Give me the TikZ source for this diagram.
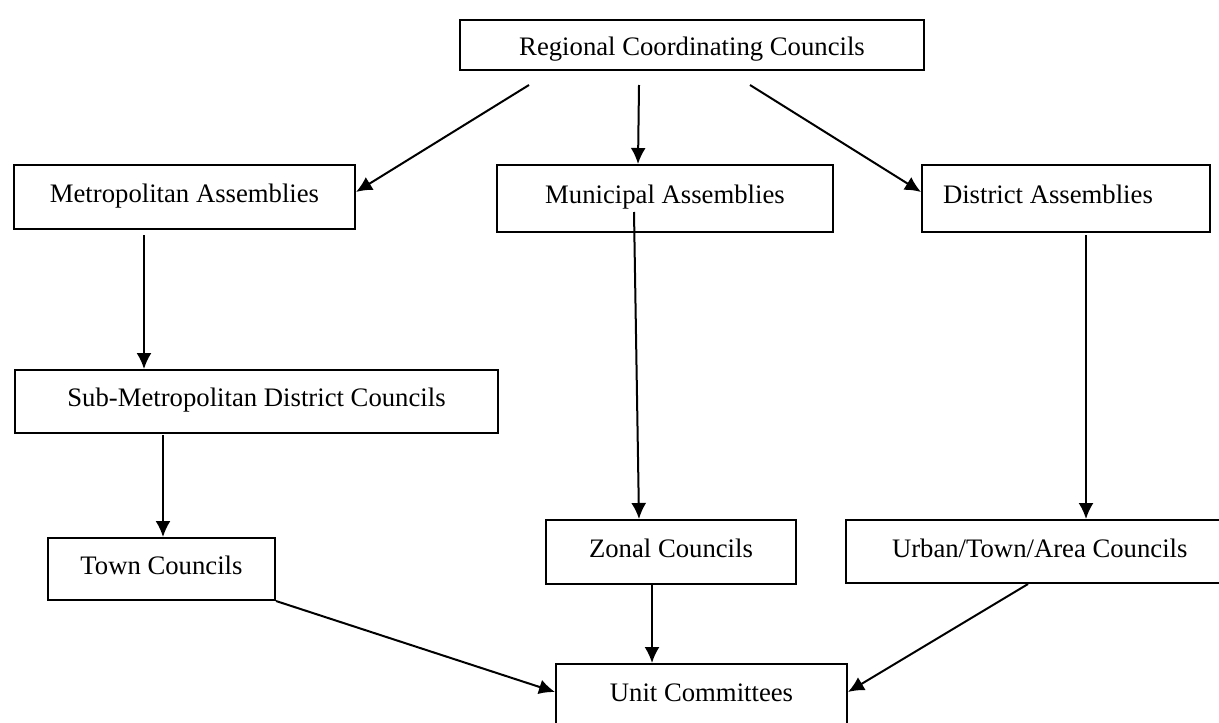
\documentclass[tikz,border=0pt]{standalone}
\usepackage{fontspec}
\setmainfont{Liberation Serif}
\usetikzlibrary{arrows.meta,calc}
\tikzset{
  box/.style={draw, line width=1pt, inner ysep=0pt, inner xsep=0pt, anchor=north west,
    font=\fontsize{13.35pt}{16pt}\selectfont},
  arr/.style={line width=1pt, -{Latex[length=8pt,width=7.5pt]}}
}
\begin{document}
\begin{tikzpicture}[x=0.5pt,y=-0.5pt]
\useasboundingbox (0,0) rectangle (1219,722);
\clip (0,0) rectangle (1219,722);
\node[box, minimum width=232pt, text height=18pt, text depth=7pt] (rcc) at (459,19) {Regional Coordinating Councils};
\node[box, minimum width=170.5pt, text height=18.5pt, text depth=13.5pt] (metro) at (13,164) {Metropolitan Assemblies};
\node[box, minimum width=168pt, text height=19pt, text depth=14.5pt] (muni) at (496,164) {Municipal Assemblies};
\node[box, inner xsep=10.5pt, text height=19pt, text depth=14.5pt] (dist) at (921,164) {\makebox[123pt][l]{District Assemblies}};
\node[box, minimum width=241.5pt, text height=18pt, text depth=13.5pt] (sub) at (14,369) {Sub-Metropolitan District Councils};
\node[box, minimum width=113.5pt, text height=18pt, text depth=13pt] (town) at (47,537) {Town Councils};
\node[box, minimum width=125pt, text height=18.5pt, text depth=13.5pt] (zonal) at (545,519) {Zonal Councils};
\node[box, inner xsep=23pt, text height=18.5pt, text depth=13pt] (urban) at (845,519) {\makebox[150pt][l]{Urban/Town/Area Councils}};
\node[box, minimum width=145.5pt, text height=18.5pt, text depth=13.5pt] (unit) at (555,663) {Unit Committees};

\draw[arr] ($(rcc.south west)+(70,14)$) -- ($(metro.north east)+(0,28)$);
\draw[arr] ($(rcc.south west)+(180,14)$) -- ($(muni.north west)+(142,0)$);
\draw[arr] ($(rcc.south west)+(291,14)$) -- ($(dist.north west)+(0,28)$);
\draw[arr] ($(metro.south west)+(131,5)$) -- ($(sub.north west)+(130,0)$);
\draw[arr] ($(muni.north west)+(138,48)$) -- ($(zonal.north west)+(94,0)$);
\draw[arr] ($(dist.south west)+(165,2)$) -- ($(urban.north west)+(241,0)$);
\draw[arr] ($(sub.south west)+(149,1)$) -- ($(town.north west)+(116,0)$);
\draw[arr] (town.south east) -- ($(unit.north west)+(0,29)$);
\draw[arr] ($(zonal.south west)+(107,0)$) -- ($(unit.north west)+(97,0)$);
\draw[arr] ($(urban.south west)+(183,0)$) -- ($(unit.north east)+(0,29)$);
\end{tikzpicture}
\end{document}
